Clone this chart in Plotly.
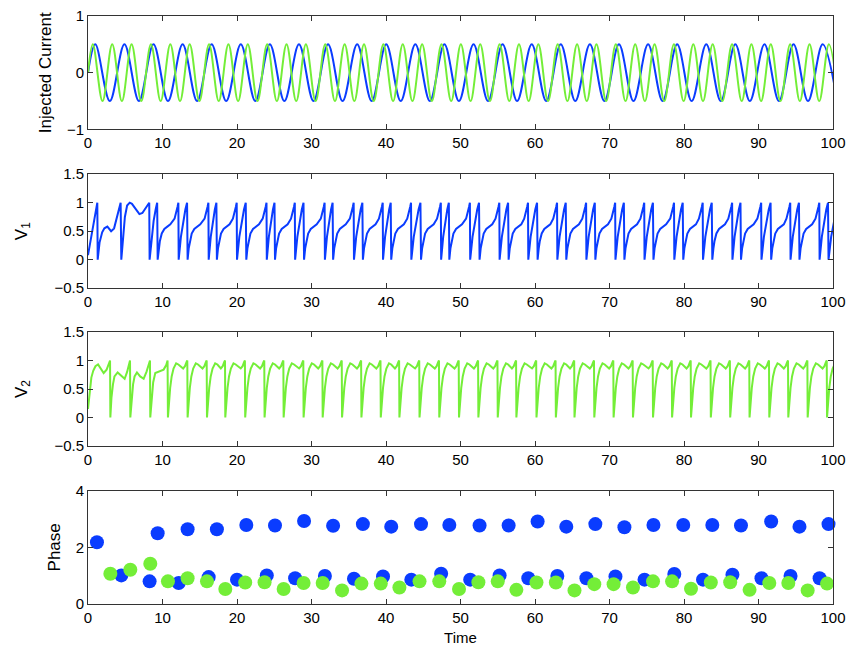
import plotly.graph_objects as go

# ---------------- data ----------------
# Injected current: times of alternating peaks (+0.5) / troughs (-0.5)
cur1_ext_t = [0.98, 2.93, 4.89, 6.84, 8.79, 10.74, 12.70, 14.65, 16.60, 18.55, 20.51, 22.46,
              24.41, 26.36, 28.32, 30.27, 32.22, 34.17, 36.13, 38.08, 40.03, 41.98, 43.94, 45.89,
              47.84, 49.79, 51.75, 53.70, 55.65, 57.60, 59.56, 61.51, 63.46, 65.41, 67.37, 69.32,
              71.27, 73.22, 75.18, 77.13, 79.08, 81.03, 82.99, 84.94, 86.89, 88.84, 90.80, 92.75,
              94.70, 96.65, 98.61, 100.56]
cur2_ext_t = [0.65, 1.95, 3.25, 4.55, 5.85, 7.15, 8.45, 9.75, 11.05, 12.35, 13.65, 14.95, 16.25,
              17.55, 18.85, 20.15, 21.45, 22.75, 24.05, 25.35, 26.65, 27.95, 29.25, 30.55, 31.85,
              33.15, 34.45, 35.75, 37.05, 38.35, 39.65, 40.95, 42.25, 43.55, 44.85, 46.15, 47.45,
              48.75, 50.05, 51.35, 52.65, 53.95, 55.25, 56.55, 57.85, 59.15, 60.45, 61.75, 63.05,
              64.35, 65.65, 66.95, 68.25, 69.55, 70.85, 72.15, 73.45, 74.75, 76.05, 77.35, 78.65,
              79.95, 81.25, 82.55, 83.85, 85.15, 86.45, 87.75, 89.05, 90.35, 91.65, 92.95, 94.25,
              95.55, 96.85, 98.15, 99.45, 100.75]
cur_amp = [0.5, -0.5]

# Phase of spikes (x = spike time)
phase1_t = [1.2, 4.47, 8.27, 9.35, 12.17, 13.37, 16.2, 17.3, 20.0, 21.25, 24.0, 25.1, 27.8, 29.0,
            31.8, 32.9, 35.7, 36.9, 39.6, 40.7, 43.4, 44.7, 47.4, 48.5, 51.3, 52.56, 55.25, 56.46,
            59.1, 60.35, 63.0, 64.2, 66.9, 68.1, 70.8, 72.0, 74.7, 75.9, 78.7, 79.9, 82.55, 83.8,
            86.5, 87.65, 90.4, 91.7, 94.3, 95.5, 98.2, 99.4]
phase1_v = [2.18, 1.01, 0.80, 2.50, 0.74, 2.64, 0.95, 2.64, 0.86, 2.79, 1.01, 2.77, 0.91, 2.93,
            0.99, 2.76, 0.89, 2.82, 0.97, 2.73, 0.86, 2.82, 1.07, 2.79, 0.86, 2.77, 1.01, 2.77,
            0.91, 2.91, 0.99, 2.73, 0.91, 2.82, 0.97, 2.71, 0.86, 2.79, 1.06, 2.79, 0.86, 2.79,
            1.03, 2.77, 0.91, 2.91, 0.99, 2.73, 0.91, 2.82]
phase2_t = [3.0, 5.68, 8.36, 10.73, 13.37, 15.97, 18.43, 21.1, 23.7, 26.26, 28.94, 31.5, 34.1,
            36.7, 39.3, 41.8, 44.5, 47.15, 49.8, 52.4, 55.0, 57.5, 60.2, 62.8, 65.3, 67.96, 70.55,
            73.15, 75.84, 78.4, 80.94, 83.6, 86.2, 88.8, 91.45, 94.0, 96.6, 99.2]
phase2_v = [1.07, 1.21, 1.42, 0.80, 0.91, 0.80, 0.53, 0.76, 0.77, 0.53, 0.74, 0.74, 0.48, 0.72,
            0.72, 0.58, 0.80, 0.80, 0.53, 0.77, 0.80, 0.50, 0.76, 0.76, 0.48, 0.70, 0.70, 0.58,
            0.80, 0.80, 0.54, 0.76, 0.77, 0.50, 0.74, 0.74, 0.48, 0.72]

# V1 initial transient (read point by point)
v1_init_t = [0, 0.4, 0.8, 1.1, 1.25, 1.3, 1.55, 1.9, 2.2, 2.6, 3.1, 3.5, 3.8, 4.1, 4.38, 4.47,
             4.7, 4.95, 5.25, 5.6, 5.9, 6.4, 6.9, 7.3, 7.7, 8.05, 8.22, 8.27]
v1_init_v = [0.08, 0.38, 0.68, 0.9, 1.0, 0.0, 0.3, 0.48, 0.55, 0.58, 0.5, 0.55, 0.7, 0.88, 1.0, 0.0,
             0.42, 0.75, 0.95, 1.0, 0.98, 0.9, 0.8, 0.82, 0.9, 0.98, 1.0, 0.0]
# V2 initial transient
v2_init_t = [0, 0.2, 0.45, 0.7, 1.0, 1.35, 1.7, 2.1, 2.5, 2.85, 2.96, 3.0, 3.15, 3.35, 3.55, 3.98,
             4.5, 4.92, 5.25, 5.55, 5.64, 5.68, 5.85, 6.05, 6.25, 6.57, 7.0, 7.47, 7.85, 8.2, 8.32,
             8.36, 8.55, 8.75, 9.03, 9.7, 10.15, 10.5, 10.68, 10.73]
v2_init_v = [0.15, 0.45, 0.7, 0.82, 0.9, 0.93, 0.86, 0.78, 0.84, 0.96, 1.0, 0.0, 0.35, 0.58, 0.72,
             0.79, 0.72, 0.68, 0.8, 0.96, 1.0, 0.0, 0.35, 0.58, 0.72, 0.79, 0.72, 0.68, 0.8, 0.96,
             1.0, 0.0, 0.4, 0.62, 0.78, 0.81, 0.84, 0.92, 1.0, 0.0]

v1_quick_frac = [0.25, 0.5, 0.75, 0.94]          # fraction of the short interval
v1_quick_v = [0.4, 0.68, 0.88, 1.0]
v1_rec_early_dt = [0.15, 0.3, 0.55, 0.9, 1.3, 1.7]  # after the drop
v1_rec_early_v = [0.2, 0.33, 0.46, 0.54, 0.58, 0.62]
v1_rec_late_dt = [-0.55, -0.32, -0.15, -0.04, 0.0]  # before the next drop
v1_rec_late_v = [0.72, 0.82, 0.93, 1.0, 0.0]
v2_early_dt = [0.12, 0.3, 0.5, 0.75, 1.1, 1.4]
v2_early_v = [0.3, 0.52, 0.72, 0.86, 0.95, 0.93]
v2_late_dt = [-0.6, -0.35, -0.15, -0.04, 0.0]
v2_late_v = [0.86, 0.9, 0.97, 1.0, 0.0]

BLUE = "#0a3cff"
GREEN = "#74ee38"


def build_v1():
    xs, ys = list(v1_init_t), list(v1_init_v)
    s = phase1_t
    for i in range(2, len(s)):
        a = s[i]
        b = s[i + 1] if i + 1 < len(s) else 100.8
        L = b - a
        if L < 1.7:
            for f, v in zip(v1_quick_frac, v1_quick_v):
                xs.append(a + f * L); ys.append(v)
            xs.append(b); ys.append(0.0)
        else:
            for dt, v in zip(v1_rec_early_dt, v1_rec_early_v):
                if dt < L - 0.6:
                    xs.append(a + dt); ys.append(v)
            if i + 1 < len(s):
                for dt, v in zip(v1_rec_late_dt, v1_rec_late_v):
                    xs.append(b + dt); ys.append(v)
    return xs, ys


def build_v2():
    xs, ys = list(v2_init_t), list(v2_init_v)
    s = phase2_t
    for i in range(3, len(s)):
        a = s[i]
        b = s[i + 1] if i + 1 < len(s) else 101.0
        L = b - a
        for dt, v in zip(v2_early_dt, v2_early_v):
            if dt < L - 0.65:
                xs.append(a + dt); ys.append(v)
        if i + 1 < len(s):
            for dt, v in zip(v2_late_dt, v2_late_v):
                xs.append(b + dt); ys.append(v)
    return xs, ys


def build_cur(ext):
    xs = [0.0] + list(ext)
    ys = [0.0] + [cur_amp[k % 2] for k in range(len(ext))]
    return xs, ys


fig = go.Figure()
c1x, c1y = build_cur(cur1_ext_t)
c2x, c2y = build_cur(cur2_ext_t)
fig.add_trace(go.Scatter(x=c1x, y=c1y, mode="lines", line=dict(color=BLUE, width=2, shape="spline"),
                         xaxis="x", yaxis="y"))
fig.add_trace(go.Scatter(x=c2x, y=c2y, mode="lines", line=dict(color=GREEN, width=2, shape="spline"),
                         xaxis="x", yaxis="y"))
v1x, v1y = build_v1()
fig.add_trace(go.Scatter(x=v1x, y=v1y, mode="lines", line=dict(color=BLUE, width=2),
                         xaxis="x2", yaxis="y2"))
v2x, v2y = build_v2()
fig.add_trace(go.Scatter(x=v2x, y=v2y, mode="lines", line=dict(color=GREEN, width=2),
                         xaxis="x3", yaxis="y3"))
fig.add_trace(go.Scatter(x=phase1_t, y=phase1_v, mode="markers", cliponaxis=False,
                         marker=dict(color=BLUE, size=14, line=dict(width=0)),
                         xaxis="x4", yaxis="y4"))
fig.add_trace(go.Scatter(x=phase2_t, y=phase2_v, mode="markers", cliponaxis=False,
                         marker=dict(color=GREEN, size=14, line=dict(width=0)),
                         xaxis="x4", yaxis="y4"))

FONT = dict(family="Liberation Sans, Arial, sans-serif", size=15, color="black")
TFONT = dict(family="Liberation Sans, Arial, sans-serif", size=17, color="black")
domains = [[0.807, 1.0], [0.537, 0.731], [0.2687, 0.4626], [0.0, 0.1927]]
yranges = [[-1, 1], [-0.5, 1.5], [-0.5, 1.5], [0, 4]]
yticks = [[-1, 0, 1], [-0.5, 0, 0.5, 1, 1.5], [-0.5, 0, 0.5, 1, 1.5], [0, 2, 4]]
ytitles = ["Injected Current", "V<sub>1</sub>", "V<sub>2</sub>", "Phase"]
ystandoff = [10, 22, 22, 10]
xticks = list(range(0, 101, 10))

common = dict(showline=True, linecolor="#333333", linewidth=1, mirror="allticks", ticks="inside",
              ticklen=5, tickcolor="#333333", showgrid=False, zeroline=False, tickfont=FONT,
              automargin=False)
layout = dict(width=848, height=650, plot_bgcolor="white", paper_bgcolor="white",
              margin=dict(l=88, r=15, t=16, b=46), showlegend=False, font=FONT)
for i in range(4):
    sx = "" if i == 0 else str(i + 1)
    xa = dict(common, domain=[0, 1], range=[0, 100], tickvals=xticks, anchor="y" + sx)
    if i == 3:
        xa["title"] = dict(text="Time", font=FONT, standoff=7)
    ya = dict(common, domain=domains[i], range=yranges[i], tickvals=yticks[i], anchor="x" + sx,
              title=dict(text=ytitles[i], font=TFONT, standoff=ystandoff[i]))
    layout["xaxis" + sx] = xa
    layout["yaxis" + sx] = ya

fig.update_layout(**layout)
fig.write_html("out.html")
